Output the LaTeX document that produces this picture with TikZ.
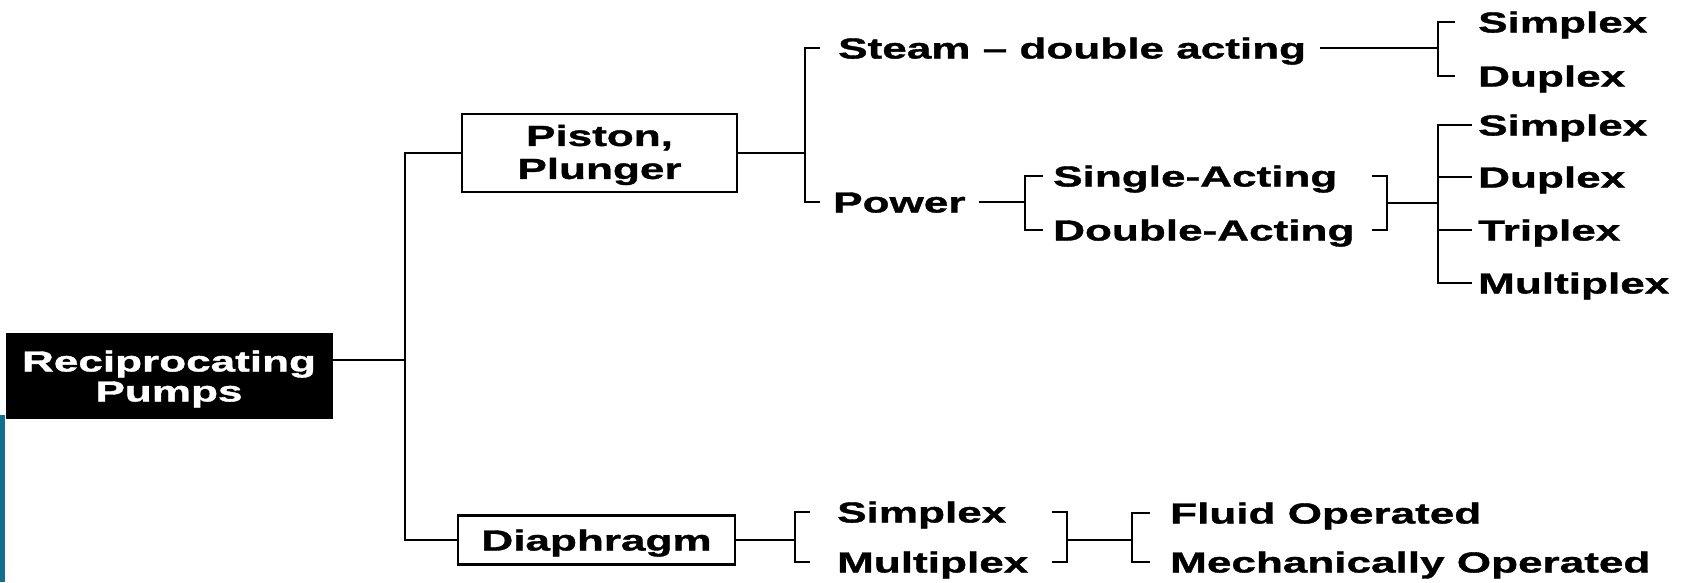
\documentclass[tikz,border=0pt]{standalone}
\usepackage{fontspec}
\newfontfamily\lblfamily{Liberation Sans}[FakeStretch=1.52, FakeBold=1.2]
\newcommand\lbltext{\lblfamily\bfseries\fontsize{29}{30}\selectfont}
\newcommand\lbltextwide{\lblfamily\bfseries\fontsize{29}{33}\selectfont}
\definecolor{edgeteal}{RGB}{18,112,140}

\tikzset{
  conn/.style={line width=2.8pt},
  lbl/.style={inner sep=0pt, anchor=west, font=\lbltext, text height=21pt, text depth=0pt},
  box/.style={draw, line width=2.8pt, inner sep=0pt, align=center, font=\lbltext},
  rootbox/.style={draw, fill=black, text=white, line width=1pt, inner sep=0pt, align=center, font=\lbltext}
}

\begin{document}
\begin{tikzpicture}[x=1pt, y=-1pt]
\useasboundingbox (0,0) rectangle (1685,582);

% left edge accent
\fill[edgeteal] (0,415) rectangle (5,582);

% boxes (the struts push the two text lines a little lower in each box)
\node[rootbox, minimum width=326pt, minimum height=85pt] (root) at (169,375.5) {\rule{0pt}{28pt}Reciprocating\\Pumps};
\node[box, minimum width=275pt, minimum height=78pt, font=\lbltextwide] (piston) at (599.5,153) {\rule{0pt}{25pt}Piston,\\Plunger};
\node[box, minimum width=277pt, minimum height=49pt, text height=21pt, text depth=0pt] (diaph) at (596.5,540) {Diaphragm};

% labels
\node[lbl] (steam)  at (838,48)   {Steam – double acting};
\node[lbl] (s1)     at (1478,22)  {Simplex};
\node[lbl] (d1)     at (1478,76)  {Duplex};
\node[lbl] (power)  at (833,202)  {Power};
\node[lbl] (single) at (1053,176) {Single-Acting};
\node[lbl] (double) at (1053,230) {Double-Acting};
\node[lbl] (s2)     at (1478,125) {Simplex};
\node[lbl] (d2)     at (1478,177) {Duplex};
\node[lbl] (tri)    at (1478,230) {Triplex};
\node[lbl] (multi)  at (1478,283) {Multiplex};
\node[lbl] (ds)     at (837,512)  {Simplex};
\node[lbl] (dm)     at (837,562)  {Multiplex};
\node[lbl] (fluid)  at (1170,513) {Fluid Operated};
\node[lbl] (mech)   at (1170,562) {Mechanically Operated};

% junction points
\coordinate (rj) at (405,360);
\coordinate (tBot) at (405,540);
\coordinate (jA) at (805,153);
\coordinate (jB) at (1438,48);
\coordinate (jC) at (1025,202);
\coordinate (dTick) at (1372,0);
\coordinate (jD) at (1387,203);
\coordinate (jE) at (1438,203);
\coordinate (jF) at (795,540);
\coordinate (gTick) at (1052,0);
\coordinate (jG) at (1067,540);
\coordinate (jH) at (1132,540);

% main trunk
\draw[conn] (root.east |- rj) -- (rj);
\draw[conn] (piston.west) -| (tBot) -- (diaph.west);

% piston / plunger branch
\draw[conn] (piston.east) -- (jA);
\draw[conn] ([xshift=-18pt]steam.west) -| (jA) |- ([xshift=-13pt]power.west);
\draw[conn] ([xshift=14pt]steam.east) -- (jB);
\draw[conn] ([xshift=-23pt]s1.west) -| (jB) |- ([xshift=-23pt]d1.west);
\draw[conn] ([xshift=13pt]power.east) -- (jC);
\draw[conn] ([xshift=-10pt]single.west) -| (jC) |- ([xshift=-10pt]double.west);
\draw[conn] (single.west -| dTick) -| (jD) |- (double.west -| dTick);
\draw[conn] (jD) -- (jE);
\draw[conn] ([xshift=-6pt]s2.west) -| (jE) |- ([xshift=-6pt]multi.west);
\draw[conn] (jE |- d2.west) -- ([xshift=-6pt]d2.west);
\draw[conn] (jE |- tri.west) -- ([xshift=-6pt]tri.west);

% diaphragm branch
\draw[conn] (diaph.east) -- (jF);
\draw[conn] ([xshift=-27pt]ds.west) -| (jF) |- ([xshift=-27pt]dm.west);
\draw[conn] (ds.west -| gTick) -| (jG) |- (dm.west -| gTick);
\draw[conn] (jG) -- (jH);
\draw[conn] ([xshift=-20pt]fluid.west) -| (jH) |- ([xshift=-20pt]mech.west);
\end{tikzpicture}
\end{document}
